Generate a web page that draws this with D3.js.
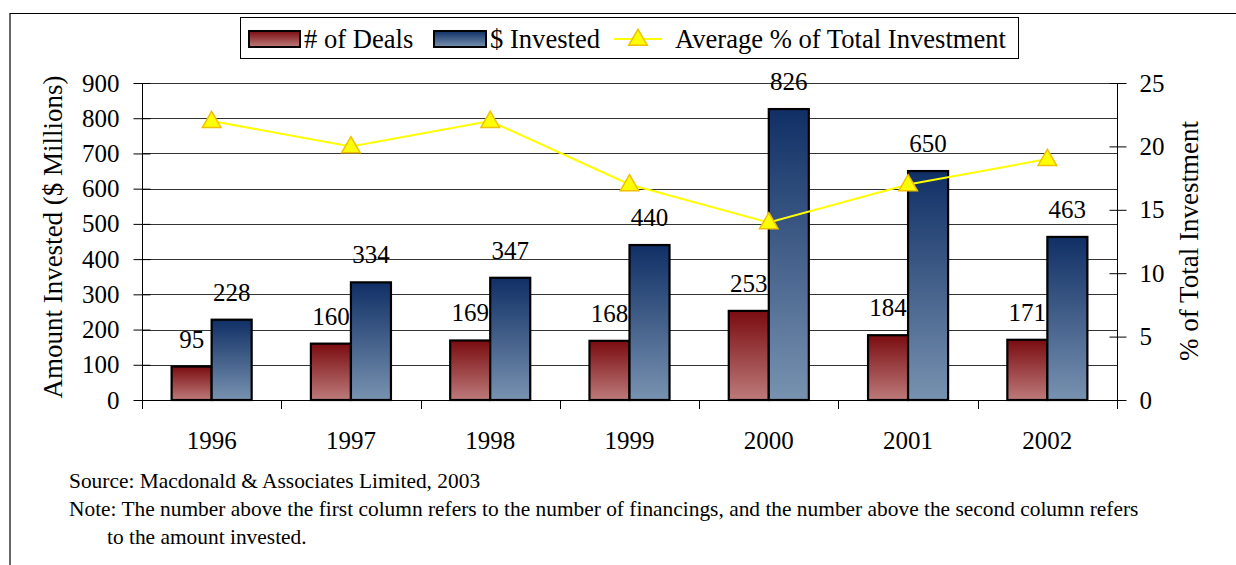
<!DOCTYPE html>
<html>
<head>
<meta charset="utf-8">
<script src="https://cdn.jsdelivr.net/npm/d3@7"></script>
<style>
  body { margin: 0; background: #fff; }
  svg text { font-family: "Liberation Serif", "Times New Roman", serif; fill: #000; }
</style>
</head>
<body>
<div id="chart"></div>
<script>
// data
const years = ["1996", "1997", "1998", "1999", "2000", "2001", "2002"];
const deals = [95, 160, 169, 168, 253, 184, 171];
const invested = [228, 334, 347, 440, 826, 650, 463];
const avgPct = [22, 20, 22, 17, 14, 17, 19];
const leftTicks = [0, 100, 200, 300, 400, 500, 600, 700, 800, 900];
const rightTicks = [0, 5, 10, 15, 20, 25];

const W = 1236, H = 565;
const plot = { left: 142, right: 1117, top: 83, bottom: 400 };
const fs = "25px";

const svg = d3.select("#chart").append("svg")
    .attr("width", W)
    .attr("height", H);

// gradients for the bars
const defs = svg.append("defs");
function grad(id, top, bottom) {
    const g = defs.append("linearGradient").attr("id", id)
        .attr("x1", 0).attr("y1", 0).attr("x2", 0).attr("y2", 1);
    g.append("stop").attr("offset", "0%").attr("stop-color", top);
    g.append("stop").attr("offset", "100%").attr("stop-color", bottom);
}
grad("redGrad", "#7a0c10", "#bd7a7a");
grad("blueGrad", "#102f65", "#7892b0");

// outer frame (open on the right and bottom)
svg.append("path")
    .attr("d", "M10," + (H + 5) + " V13.5 H" + (W + 5))
    .attr("fill", "none")
    .attr("stroke", "#000")
    .attr("stroke-width", 1.2);

// scales
const x = d3.scaleBand()
    .domain(years)
    .range([plot.left, plot.right]);

const xInner = d3.scaleBand()
    .domain(["deals", "invested"])
    .range([0, x.bandwidth()])
    .paddingInner(0)
    .paddingOuter(0.74);

const y = d3.scaleLinear()
    .domain([0, 900])
    .range([plot.bottom, plot.top]);

const y2 = d3.scaleLinear()
    .domain([0, 25])
    .range([plot.bottom, plot.top]);

// gridlines
svg.append("g")
    .selectAll("line")
    .data(leftTicks.slice(1))
    .enter()
    .append("line")
    .attr("x1", plot.left)
    .attr("x2", plot.right)
    .attr("y1", d => Math.round(y(d)) + 0.5)
    .attr("y2", d => Math.round(y(d)) + 0.5)
    .attr("stroke", "#333")
    .attr("stroke-width", 1);

// left axis
const gLeft = svg.append("g")
    .attr("transform", "translate(" + (plot.left + 0.5) + ",0)")
    .call(d3.axisLeft(y).tickValues(leftTicks).tickSizeOuter(0).tickSizeInner(9).tickPadding(14));
gLeft.select(".domain").attr("d", "M0," + plot.top + "V" + (plot.bottom + 9));
gLeft.selectAll(".tick line").attr("x1", 8);
gLeft.selectAll("text").style("font-size", fs);

// right axis
const gRight = svg.append("g")
    .attr("transform", "translate(" + (plot.right + 0.5) + ",0)")
    .call(d3.axisRight(y2).tickValues(rightTicks).tickSizeOuter(0).tickSizeInner(9).tickPadding(13));
gRight.select(".domain").attr("d", "M0," + plot.top + "V" + (plot.bottom + 9));
gRight.selectAll(".tick line").attr("x1", -8);
gRight.selectAll("text").style("font-size", fs);

// bottom axis: ticks between categories
const boundaries = d3.range(1, years.length + 1).map(i => plot.left + i * x.step());
svg.append("line")
    .attr("x1", plot.left).attr("x2", plot.right)
    .attr("y1", plot.bottom + 0.5).attr("y2", plot.bottom + 0.5)
    .attr("stroke", "#000");
svg.append("g")
    .selectAll("line")
    .data(boundaries)
    .enter()
    .append("line")
    .attr("x1", d => Math.round(d) + 0.5)
    .attr("x2", d => Math.round(d) + 0.5)
    .attr("y1", plot.bottom)
    .attr("y2", plot.bottom + 9)
    .attr("stroke", "#000");
svg.append("g")
    .selectAll("text")
    .data(years)
    .enter()
    .append("text")
    .attr("x", d => x(d) + x.bandwidth() / 2)
    .attr("y", 449)
    .attr("text-anchor", "middle")
    .style("font-size", fs)
    .text(d => d);

// bars
const rows = years.map((yr, i) => ({ year: yr, deals: deals[i], invested: invested[i] }));
const series = [
    { key: "deals", fill: "url(#redGrad)" },
    { key: "invested", fill: "url(#blueGrad)" }
];
series.forEach(s => {
    svg.append("g")
        .selectAll("rect")
        .data(rows)
        .enter()
        .append("rect")
        .attr("x", d => x(d.year) + xInner(s.key))
        .attr("y", d => y(d[s.key]))
        .attr("width", xInner.bandwidth())
        .attr("height", d => plot.bottom - y(d[s.key]))
        .attr("fill", s.fill)
        .attr("stroke", "#000")
        .attr("stroke-width", 2.2);

    svg.append("g")
        .selectAll("text")
        .data(rows)
        .enter()
        .append("text")
        .attr("x", d => x(d.year) + xInner(s.key) + xInner.bandwidth() / 2)
        .attr("y", d => y(d[s.key]) - 19)
        .attr("text-anchor", "middle")
        .style("font-size", fs)
        .text(d => d[s.key]);
});

// average % line
const line = d3.line()
    .x((d, i) => x(years[i]) + x.bandwidth() / 2)
    .y(d => y2(d));
svg.append("path")
    .datum(avgPct)
    .attr("d", line)
    .attr("fill", "none")
    .attr("stroke", "#ffff00")
    .attr("stroke-width", 2);

const tri = d3.symbol().type(d3.symbolTriangle).size(150);
svg.append("g")
    .selectAll("path")
    .data(avgPct)
    .enter()
    .append("path")
    .attr("d", tri)
    .attr("transform", (d, i) => "translate(" + (x(years[i]) + x.bandwidth() / 2) + "," + (y2(d) + 1) + ")")
    .attr("fill", "#ffff00")
    .attr("stroke", "#f0c000")
    .attr("stroke-width", 1.5);

// axis titles
svg.append("text")
    .attr("transform", "translate(62,237) rotate(-90)")
    .attr("text-anchor", "middle")
    .style("font-size", "27px")
    .text("Amount Invested ($ Millions)");
svg.append("text")
    .attr("transform", "translate(1198,241) rotate(-90)")
    .attr("text-anchor", "middle")
    .style("font-size", "27px")
    .text("% of Total Investment");

// legend
const legend = svg.append("g");
legend.append("rect")
    .attr("x", 240.5).attr("y", 17.5)
    .attr("width", 778).attr("height", 41)
    .attr("fill", "#fff")
    .attr("stroke", "#000");
legend.append("rect")
    .attr("x", 249).attr("y", 31).attr("width", 51).attr("height", 16)
    .attr("fill", "url(#redGrad)").attr("stroke", "#000").attr("stroke-width", 2);
legend.append("text").attr("x", 304).attr("y", 48).style("font-size", "26.6px").text("# of Deals");
legend.append("rect")
    .attr("x", 434).attr("y", 31).attr("width", 52).attr("height", 16)
    .attr("fill", "url(#blueGrad)").attr("stroke", "#000").attr("stroke-width", 2);
legend.append("text").attr("x", 490).attr("y", 48).style("font-size", "26.6px").text("$ Invested");
legend.append("line")
    .attr("x1", 614).attr("x2", 662).attr("y1", 39).attr("y2", 39)
    .attr("stroke", "#ffff00").attr("stroke-width", 2);
legend.append("path")
    .attr("d", tri)
    .attr("transform", "translate(638,40)")
    .attr("fill", "#ffff00").attr("stroke", "#f0c000").attr("stroke-width", 1.5);
legend.append("text").attr("x", 675).attr("y", 48).style("font-size", "26.6px").text("Average % of Total Investment");

// notes
const notes = svg.append("g").style("font-size", "21.4px");
notes.append("text").attr("x", 69).attr("y", 488).text("Source: Macdonald & Associates Limited, 2003");
notes.append("text").attr("x", 69).attr("y", 516)
    .text("Note: The number above the first column refers to the number of financings, and the number above the second column refers");
notes.append("text").attr("x", 107).attr("y", 544).text("to the amount invested.");
</script>
</body>
</html>
